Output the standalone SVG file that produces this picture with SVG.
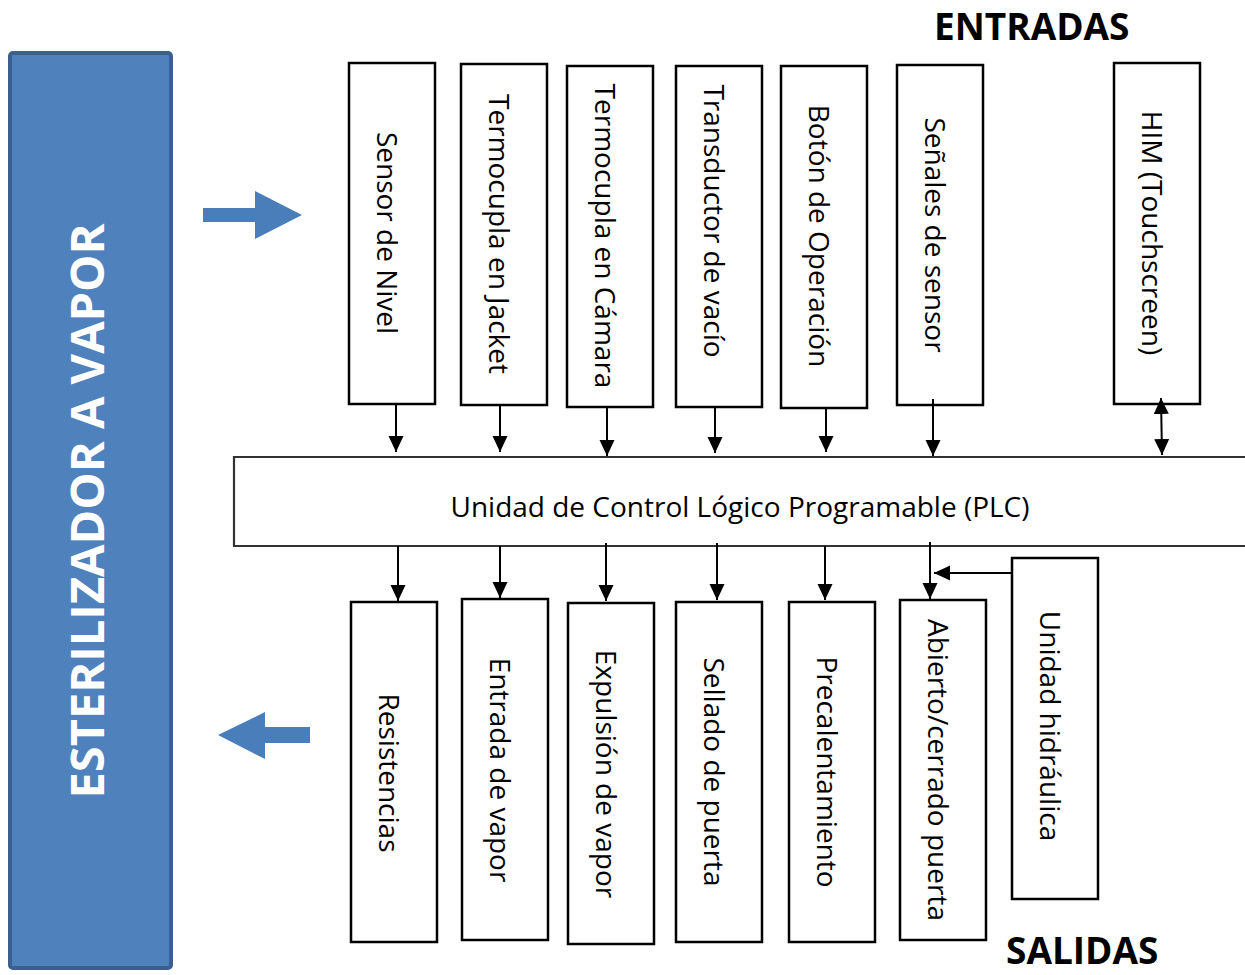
<svg xmlns="http://www.w3.org/2000/svg" width="1245" height="975" viewBox="0 0 1245 975">
<defs>
<style>
.box{fill:#fff;stroke:#000;stroke-width:2.5}
.lbl{font-family:"Open Sans","Noto Sans",sans-serif;font-size:28px;fill:#000;text-anchor:middle;dominant-baseline:central}
.hd{font-family:"Open Sans","Noto Sans",sans-serif;font-size:37px;font-weight:bold;fill:#000}
.ln{stroke:#000;stroke-width:2;fill:none}
.blue{fill:#4A7EBB}
</style>
<marker id="ah" markerUnits="userSpaceOnUse" markerWidth="16" markerHeight="16" refX="16" refY="7.5" orient="auto-start-reverse" viewBox="0 0 16 15">
<path d="M0,0 L16,7.5 L0,15 z" fill="#000"/>
</marker>
</defs>
<rect width="1245" height="975" fill="#fff"/>

<g id="esterilizador">
<rect x="10" y="53" width="161" height="915" rx="3" fill="#4F81BD" stroke="#3B5F8E" stroke-width="4"/>
<text transform="translate(86,511) rotate(-90)" font-family="Open Sans, Noto Sans, sans-serif" font-size="47" font-weight="bold" fill="#fff" text-anchor="middle" dominant-baseline="central">ESTERILIZADOR A VAPOR</text>
</g>

<g id="arrow-in"><path class="blue" d="M203,208 H255 V191 L302,215 L255,239 V222 H203 z"/></g>
<g id="arrow-out"><path class="blue" d="M310,727 H265 V712 L218,735 L265,759 V743 H310 z"/></g>

<g id="title-entradas"><text class="hd" x="934" y="40">ENTRADAS</text></g>
<g id="title-salidas"><text class="hd" x="1006" y="964">SALIDAS</text></g>

<g id="in1"><rect class="box" x="349" y="63" width="86" height="341"/><text class="lbl" transform="translate(388,233) rotate(90)">Sensor de Nivel</text></g>
<g id="in2"><rect class="box" x="461" y="64" width="86" height="341"/><text class="lbl" transform="translate(500,234) rotate(90)">Termocupla en Jacket</text></g>
<g id="in3"><rect class="box" x="567" y="66" width="86" height="341"/><text class="lbl" transform="translate(606,236) rotate(90)">Termocupla en Cámara</text></g>
<g id="in4"><rect class="box" x="676" y="66" width="86" height="341"/><text class="lbl" transform="translate(715,221) rotate(90)">Transductor de vacío</text></g>
<g id="in5"><rect class="box" x="781" y="66" width="86" height="342"/><text class="lbl" transform="translate(820,236) rotate(90)">Botón de Operación</text></g>
<g id="in6"><rect class="box" x="897" y="65" width="86" height="340"/><text class="lbl" transform="translate(936,235) rotate(90)">Señales de sensor</text></g>
<g id="in7"><rect class="box" x="1114" y="63" width="86" height="341"/><text class="lbl" transform="translate(1153,233) rotate(90)">HIM (Touchscreen)</text></g>

<g id="plc"><path d="M1245,457 H234 V546 H1245" fill="#fff" stroke="#333" stroke-width="2.2"/><text x="740" y="506" class="lbl">Unidad de Control Lógico Programable (PLC)</text></g>

<g id="out1"><rect class="box" x="351" y="602" width="86" height="340"/><text class="lbl" transform="translate(390,773) rotate(90)">Resistencias</text></g>
<g id="out2"><rect class="box" x="462" y="599" width="86" height="341"/><text class="lbl" transform="translate(501,770) rotate(90)">Entrada de vapor</text></g>
<g id="out3"><rect class="box" x="568" y="603" width="86" height="341"/><text class="lbl" transform="translate(607,774) rotate(90)">Expulsión de vapor</text></g>
<g id="out4"><rect class="box" x="676" y="602" width="86" height="340"/><text class="lbl" transform="translate(715,772) rotate(90)">Sellado de puerta</text></g>
<g id="out5"><rect class="box" x="789" y="602" width="86" height="340"/><text class="lbl" transform="translate(828,772) rotate(90)">Precalentamiento</text></g>
<g id="out6"><rect class="box" x="900" y="600" width="86" height="340"/><text class="lbl" transform="translate(939,770) rotate(90)">Abierto/cerrado puerta</text></g>
<g id="out7"><rect class="box" x="1012" y="558" width="86" height="341"/><text class="lbl" transform="translate(1051,726) rotate(90)">Unidad hidráulica</text></g>

<g id="connectors">
<line class="ln" x1="396" y1="404" x2="396" y2="452" marker-end="url(#ah)"/>
<line class="ln" x1="500" y1="405" x2="500" y2="452" marker-end="url(#ah)"/>
<line class="ln" x1="607" y1="407" x2="607" y2="456" marker-end="url(#ah)"/>
<line class="ln" x1="715" y1="407" x2="715" y2="453" marker-end="url(#ah)"/>
<line class="ln" x1="826" y1="408" x2="826" y2="452" marker-end="url(#ah)"/>
<line class="ln" x1="933" y1="399" x2="933" y2="456" marker-end="url(#ah)"/>
<line class="ln" x1="1161" y1="398" x2="1162" y2="455" marker-start="url(#ah)" marker-end="url(#ah)"/>
<line class="ln" x1="398" y1="546" x2="398" y2="601" marker-end="url(#ah)"/>
<line class="ln" x1="500" y1="546" x2="500" y2="598" marker-end="url(#ah)"/>
<line class="ln" x1="606" y1="543" x2="606" y2="601" marker-end="url(#ah)"/>
<line class="ln" x1="717" y1="543" x2="717" y2="600" marker-end="url(#ah)"/>
<line class="ln" x1="825" y1="546" x2="825" y2="600" marker-end="url(#ah)"/>
<line class="ln" x1="930" y1="542" x2="930" y2="599" marker-end="url(#ah)"/>
<line class="ln" x1="1012" y1="573" x2="934" y2="573" marker-end="url(#ah)"/>
</g>
</svg>
